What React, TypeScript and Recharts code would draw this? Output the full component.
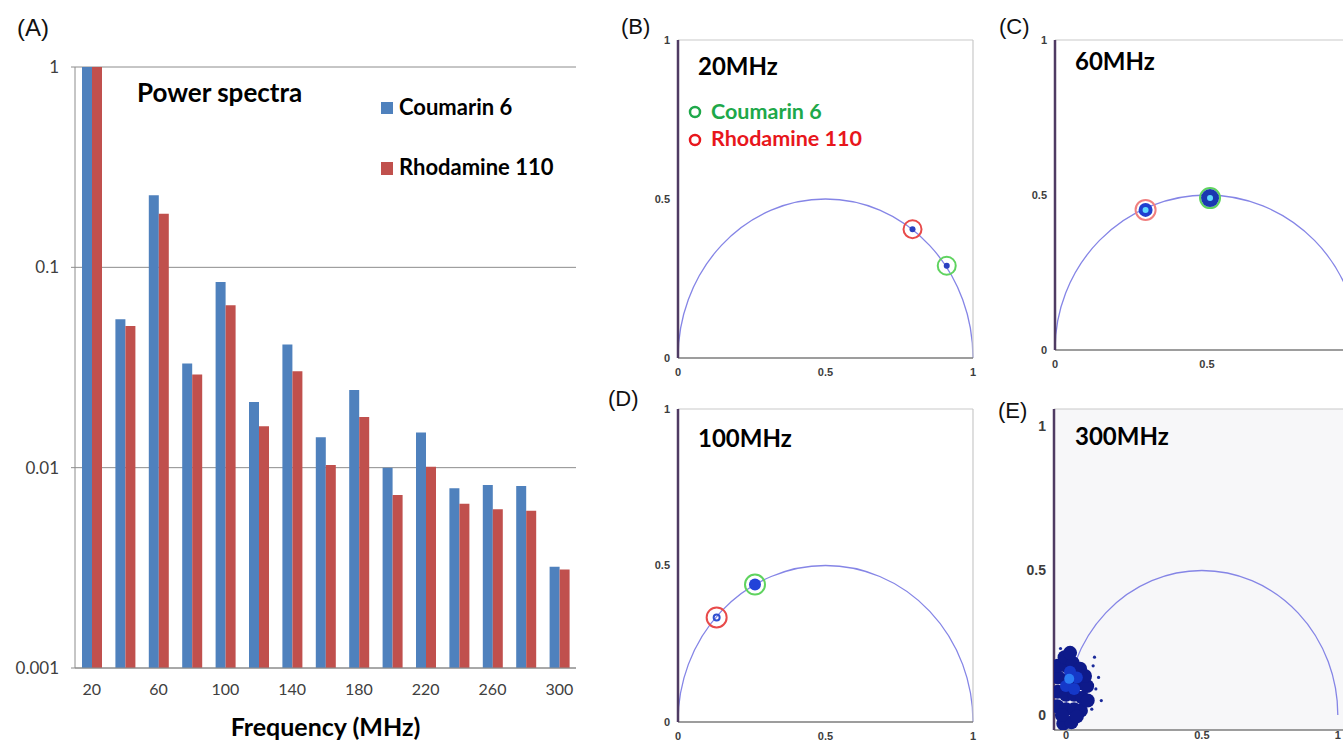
import React from 'react'
import * as R from 'recharts'

const { BarChart, Bar, XAxis, YAxis, CartesianGrid, ScatterChart, Scatter, ReferenceLine, Customized } = R as any

// (A) power spectra
const frequencies = ['20', '40', '60', '80', '100', '120', '140', '160', '180', '200', '220', '240', '260', '280', '300']
const coumarinPower = [1, 0.055, 0.229, 0.0331, 0.0845, 0.0213, 0.0412, 0.0142, 0.0244, 0.01, 0.015, 0.0079, 0.0082, 0.0081, 0.0032]
const rhodaminePower = [1, 0.051, 0.185, 0.0292, 0.0646, 0.0161, 0.0303, 0.0103, 0.0179, 0.0073, 0.0101, 0.0066, 0.0062, 0.0061, 0.0031]
const powerTicks = [0.001, 0.01, 0.1, 1]
const seriesNames = ['Coumarin 6', 'Rhodamine 110']

// (B)-(E) phasor positions (g, s); index 0 = Coumarin 6, index 1 = Rhodamine 110
const phasorTicks = [0, 0.5, 1]
const phasorTicksCut = [0, 0.5]
const g20MHz = [0.911, 0.795]
const s20MHz = [0.29, 0.405]
const g60MHz = [0.51, 0.298]
const s60MHz = [0.49, 0.452]
const g100MHz = [0.261, 0.131]
const s100MHz = [0.439, 0.334]
// 300MHz: both dyes collapse into one cloud near the origin
const g300Cloud = [-0.032, -0.03, -0.028, -0.03, -0.01, 0, 0, 0.002, 0, -0.005, 0.02, 0.03, 0.03, 0.032, 0.025, 0.055, 0.06, 0.058, 0.052, 0.08, 0.078, 0.015, 0.04, -0.015, 0.07]
const s300Cloud = [0.03, 0.08, 0.13, 0.17, -0.03, 0.02, 0.07, 0.12, 0.17, 0.2, -0.025, 0.02, 0.07, 0.12, 0.18, 0.015, 0.06, 0.11, 0.16, 0.05, 0.1, 0.215, -0.005, 0.0, 0.135]
const g300Stray = [0.11, 0.12, 0.1, 0.13, -0.02, 0.095, 0.105]
const s300Stray = [0.09, 0.13, 0.17, 0.05, 0.23, 0.02, 0.2]
const g300Mid = [0.0, 0.03, 0.015, 0.04]
const s300Mid = [0.1, 0.09, 0.15, 0.13]
const g300Core = [0.012]
const s300Core = [0.125]

const BLUE = '#4f81bd'
const RED = '#c0504d'
const RING_GREEN = '#5fd35f'
const RING_RED = '#e84a4a'

const spectraData = frequencies.map((f, i) => ({ freq: f, coumarin: coumarinPower[i], rhodamine: rhodaminePower[i] }))
const boundaryTicks = [...frequencies.map((_, i) => i), frequencies.length]

const toPoints = (g: number[], s: number[]) => g.map((v, i) => ({ g: v, s: s[i] }))

const usePlotAreaHook = (R as any).usePlotArea
const useOffsetHook = (R as any).useOffset
const useWidthHook = (R as any).useChartWidth
const useHeightHook = (R as any).useChartHeight

function usePlotBox() {
  const area = usePlotAreaHook ? usePlotAreaHook() : null
  const offset = useOffsetHook ? useOffsetHook() : null
  const w = useWidthHook ? useWidthHook() : null
  const h = useHeightHook ? useHeightHook() : null
  if (area) return area
  if (offset && w && h) {
    return { x: offset.left, y: offset.top, width: w - offset.left - offset.right, height: h - offset.top - offset.bottom }
  }
  return null
}

// universal semicircle, centre (0.5, 0), radius 0.5, through the plot's scales
function UniversalCircle({ xDomain, yDomain }: any) {
  const box = usePlotBox()
  if (!box) return null
  const sx = (v: number) => box.x + ((v - xDomain[0]) / (xDomain[1] - xDomain[0])) * box.width
  const sy = (v: number) => box.y + box.height - ((v - yDomain[0]) / (yDomain[1] - yDomain[0])) * box.height
  const x0 = sx(0)
  const x1 = sx(1)
  const y0 = sy(0)
  const rx = (x1 - x0) / 2
  const ry = y0 - sy(0.5)
  return <path d={`M${x0},${y0} A${rx},${ry} 0 0 1 ${x1},${y0}`} fill="none" stroke="#8585e6" strokeWidth={1.3} />
}

const ring = (color: string, r = 9) => (p: any) => (
  <circle cx={p.cx} cy={p.cy} r={r} fill="none" stroke={color} strokeWidth={2} />
)
const dot = (color: string, r: number) => (p: any) => <circle cx={p.cx} cy={p.cy} r={r} fill={color} />

function PhasorPanel({
  left,
  top,
  width,
  height,
  xDomain,
  yDomain,
  xTicks = phasorTicks,
  tickFont = 11,
  xTickFont,
  xTickSize = 6,
  background,
  circleOnTop,
  children,
}: any) {
  const yAxisW = 30
  const mTop = 12
  const mRight = 12
  const xAxisH = 26
  const tickStyle = { fill: '#3d3d3d', fontSize: tickFont, fontWeight: 700, fontFamily: 'Liberation Sans, Arial, sans-serif' }
  const circle = <Customized component={<UniversalCircle xDomain={xDomain} yDomain={yDomain} />} />
  return (
    <div style={{ position: 'absolute', left: left - yAxisW, top: top - mTop }}>
      <ScatterChart
        width={width + yAxisW + mRight}
        height={height + mTop + xAxisH}
        margin={{ top: mTop, right: mRight, bottom: 0, left: 0 }}
      >
        {background && <CartesianGrid horizontal={false} vertical={false} fill={background} />}
        <XAxis
          type="number"
          dataKey="g"
          domain={xDomain}
          ticks={xTicks}
          interval={0}
          allowDataOverflow
          height={xAxisH}
          tickLine={false}
          tickSize={xTickSize}
          tickMargin={xTickSize ? 4 : 1}
          axisLine={{ stroke: '#7d7d7d', strokeWidth: 1.5 }}
          tick={{ ...tickStyle, fontSize: xTickFont ?? tickFont }}
        />
        <YAxis
          type="number"
          dataKey="s"
          domain={yDomain}
          ticks={phasorTicks}
          interval={0}
          allowDataOverflow
          width={yAxisW}
          tickLine={false}
          tickMargin={2}
          axisLine={{ stroke: '#4f3b63', strokeWidth: 2.5 }}
          tick={tickStyle}
        />
        <ReferenceLine y={yDomain[1]} stroke="#c9c9c9" strokeWidth={1.2} />
        <ReferenceLine x={xDomain[1]} stroke="#c9c9c9" strokeWidth={1.2} />
        {!circleOnTop && circle}
        {children}
        {circleOnTop && circle}
      </ScatterChart>
    </div>
  )
}

const letterStyle: React.CSSProperties = {
  position: 'absolute',
  fontFamily: 'Liberation Sans, Arial, sans-serif',
  fontSize: 22,
  lineHeight: 1,
  color: '#111',
  whiteSpace: 'nowrap',
}
const boldStyle: React.CSSProperties = {
  position: 'absolute',
  fontFamily: 'Lato, sans-serif',
  fontWeight: 700,
  lineHeight: 1,
  color: '#000',
  whiteSpace: 'nowrap',
}

export default function App() {
  const pts20 = toPoints(g20MHz, s20MHz)
  const pts60 = toPoints(g60MHz, s60MHz)
  const pts100 = toPoints(g100MHz, s100MHz)
  const axisTick = { fill: '#404040', fontSize: 16, fontFamily: 'Lato, sans-serif' }

  return (
    <div
      style={{
        position: 'absolute',
        left: 0,
        top: 0,
        width: 1343,
        height: 743,
        overflow: 'hidden',
        background: '#fff',
      }}
    >
      {/* (A) power spectra */}
      <div style={{ position: 'absolute', left: 0, top: 0 }}>
        <BarChart
          width={600}
          height={743}
          data={spectraData}
          margin={{ top: 67, right: 24, left: 0, bottom: 0 }}
          barSize={10}
          barGap={0}
        >
          <CartesianGrid horizontal vertical={false} stroke="#8c8c8c" />
          <XAxis
            xAxisId="bounds"
            type="number"
            domain={[0, frequencies.length]}
            ticks={boundaryTicks}
            interval={0}
            tick={false}
            axisLine={false}
            tickLine={{ stroke: '#8c8c8c' }}
            tickSize={5}
            height={0}
          />
          <XAxis
            dataKey="freq"
            interval={1}
            height={75}
            tickLine={false}
            tickMargin={10}
            axisLine={{ stroke: '#8c8c8c' }}
            tick={axisTick}
            label={{
              value: 'Frequency (MHz)',
              position: 'insideBottom',
              offset: 7,
              style: { fontFamily: 'Lato, sans-serif', fontWeight: 700, fontSize: 25, fill: '#000' },
            }}
          />
          <YAxis
            scale="log"
            domain={[0.001, 1]}
            ticks={powerTicks}
            interval={0}
            allowDataOverflow
            width={75}
            tickSize={4}
            tickMargin={12}
            axisLine={{ stroke: '#8c8c8c' }}
            tickLine={{ stroke: '#8c8c8c' }}
            tick={{ ...axisTick, fontSize: 17 }}
            tickFormatter={(v: number) => String(v)}
          />
          <Bar dataKey="coumarin" name={seriesNames[0]} fill={BLUE} isAnimationActive={false} />
          <Bar dataKey="rhodamine" name={seriesNames[1]} fill={RED} isAnimationActive={false} />
        </BarChart>
      </div>
      <div style={{ ...letterStyle, left: 17, top: 16, fontSize: 24 }}>(A)</div>
      <div style={{ ...boldStyle, left: 137, top: 79, fontSize: 26 }}>Power spectra</div>
      <div style={{ position: 'absolute', left: 381, top: 102, width: 12, height: 12, background: BLUE }} />
      <div style={{ ...boldStyle, left: 399, top: 96, fontSize: 22 }}>{seriesNames[0]}</div>
      <div style={{ position: 'absolute', left: 381, top: 162, width: 12, height: 13, background: RED }} />
      <div style={{ ...boldStyle, left: 399, top: 156, fontSize: 22 }}>{seriesNames[1]}</div>

      {/* (B) 20MHz */}
      <PhasorPanel left={678} top={40} width={295} height={318} xDomain={[0, 1]} yDomain={[0, 1]}>
        <Scatter data={[pts20[0]]} shape={dot('#2b40c0', 3)} isAnimationActive={false} />
        <Scatter data={[pts20[1]]} shape={dot('#2b40c0', 3)} isAnimationActive={false} />
        <Scatter data={[pts20[0]]} shape={ring(RING_GREEN)} isAnimationActive={false} />
        <Scatter data={[pts20[1]]} shape={ring(RING_RED)} isAnimationActive={false} />
      </PhasorPanel>
      <div style={{ ...letterStyle, left: 621, top: 16 }}>(B)</div>
      <div style={{ ...boldStyle, left: 698, top: 54, fontSize: 24 }}>20MHz</div>
      <svg style={{ position: 'absolute', left: 688, top: 104 }} width={16} height={44}>
        <circle cx={7} cy={8} r={5} fill="none" stroke="#1ea84a" strokeWidth={2.5} />
        <circle cx={7} cy={36} r={5} fill="none" stroke="#e8161c" strokeWidth={2.5} />
      </svg>
      <div style={{ ...boldStyle, left: 711, top: 101, fontSize: 21.5, color: '#1ea84a' }}>{seriesNames[0]}</div>
      <div style={{ ...boldStyle, left: 711, top: 128, fontSize: 21.5, color: '#e8161c' }}>{seriesNames[1]}</div>

      {/* (C) 60MHz */}
      <PhasorPanel left={1055} top={40} width={304} height={310} xDomain={[0, 1]} yDomain={[0, 1]} xTicks={phasorTicksCut}>
        <Scatter data={[pts60[1]]} shape={ring('#f08080', 10)} isAnimationActive={false} />
        <Scatter data={[pts60[0]]} shape={ring(RING_GREEN, 10)} isAnimationActive={false} />
        <Scatter data={[pts60[1]]} shape={dot('#1f3fd0', 7)} isAnimationActive={false} />
        <Scatter data={[pts60[0]]} shape={dot('#1a38b0', 9)} isAnimationActive={false} />
        <Scatter data={pts60} shape={dot('#5fd8ff', 3)} isAnimationActive={false} />
      </PhasorPanel>
      <div style={{ ...letterStyle, left: 999, top: 16 }}>(C)</div>
      <div style={{ ...boldStyle, left: 1075, top: 49, fontSize: 24 }}>60MHz</div>

      {/* (D) 100MHz */}
      <PhasorPanel left={678} top={409} width={295} height={313} xDomain={[0, 1]} yDomain={[0, 1]}>
        <Scatter data={[pts100[0]]} shape={dot('#2242d8', 6)} isAnimationActive={false} />
        <Scatter data={[pts100[1]]} shape={ring('#3050d0', 3)} isAnimationActive={false} />
        <Scatter data={[pts100[0]]} shape={ring(RING_GREEN, 10)} isAnimationActive={false} />
        <Scatter data={[pts100[1]]} shape={ring(RING_RED, 10)} isAnimationActive={false} />
      </PhasorPanel>
      <div style={{ ...letterStyle, left: 608, top: 388 }}>(D)</div>
      <div style={{ ...boldStyle, left: 698, top: 426, fontSize: 24 }}>100MHz</div>

      {/* (E) 300MHz */}
      <PhasorPanel
        left={1054}
        top={409}
        width={311}
        height={321}
        xDomain={[-0.044, 1.1]}
        yDomain={[-0.052, 1.059]}
        tickFont={14}
        xTickFont={11}
        xTickSize={0}
        background="#f7f7f9"
        circleOnTop
      >
        <Scatter data={toPoints(g300Stray, s300Stray)} shape={dot('#1a2a9a', 1.6)} isAnimationActive={false} />
        <Scatter data={toPoints(g300Cloud, s300Cloud)} shape={dot('#0e1a8a', 7)} isAnimationActive={false} />
        <Scatter data={toPoints(g300Mid, s300Mid)} shape={dot('#1538c8', 6)} isAnimationActive={false} />
        <Scatter data={toPoints(g300Core, s300Core)} shape={dot('#2a7cf5', 5)} isAnimationActive={false} />
      </PhasorPanel>
      <div style={{ ...letterStyle, left: 998, top: 400 }}>(E)</div>
      <div style={{ ...boldStyle, left: 1075, top: 424, fontSize: 24 }}>300MHz</div>
    </div>
  )
}
